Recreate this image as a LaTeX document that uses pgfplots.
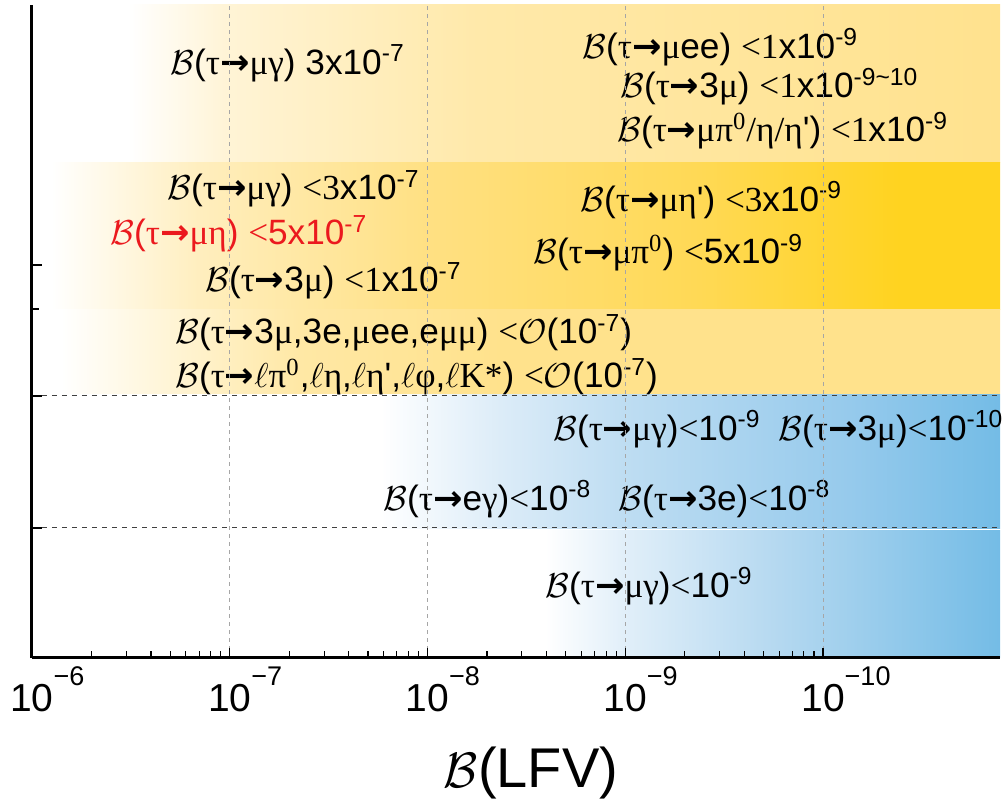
\documentclass[border=0pt]{standalone}
\usepackage{pgfplots}
\pgfplotsset{compat=1.18}
\usepackage{fontspec}
\setmainfont{Liberation Sans}
\newfontfamily\gr{Liberation Serif}
\newfontfamily\arrfont{DejaVu Sans}
\newcommand\g[1]{{\gr #1}}
\newcommand\B{$\mathcal{B}$}
\newcommand\ar{{\arrfont\bfseries →}}
\newcommand\q{\textquotesingle}
\newcommand\e[1]{\textsuperscript{#1}}
\definecolor{yA1}{RGB}{255,244,214}
\definecolor{yA2}{RGB}{255,233,170}
\definecolor{yA3}{RGB}{255,226,142}
\definecolor{yB1}{RGB}{255,238,190}
\definecolor{yB2}{RGB}{255,224,130}
\definecolor{yB3}{RGB}{255,217,85}
\definecolor{yB4}{RGB}{255,211,32}
\definecolor{yC1}{RGB}{255,232,165}
\definecolor{yC2}{RGB}{255,226,140}
\definecolor{bA1}{RGB}{220,236,248}
\definecolor{bA2}{RGB}{190,221,242}
\definecolor{bA3}{RGB}{150,202,236}
\definecolor{bA4}{RGB}{116,188,230}
\definecolor{bB1}{RGB}{225,239,249}
\definecolor{bB2}{RGB}{180,216,240}
\definecolor{bB3}{RGB}{116,188,230}
\definecolor{lblred}{RGB}{235,25,30}
\pgfdeclarehorizontalshading{bandA}{100bp}{color(0bp)=(white); color(30bp)=(white); color(35bp)=(yA1); color(48bp)=(yA2); color(75bp)=(yA3); color(100bp)=(yA3)}
\pgfdeclarehorizontalshading{bandB}{100bp}{color(0bp)=(white); color(26bp)=(white); color(33.7bp)=(yB1); color(45.6bp)=(yB2); color(59.5bp)=(yB3); color(69.8bp)=(yB4); color(100bp)=(yB4)}
\pgfdeclarehorizontalshading{bandC}{100bp}{color(0bp)=(white); color(26.5bp)=(white); color(38.8bp)=(yC1); color(49.2bp)=(yC2); color(100bp)=(yC2)}
\pgfdeclarehorizontalshading{bandD}{100bp}{color(0bp)=(white); color(43bp)=(white); color(49.2bp)=(bA1); color(55.6bp)=(bA2); color(67.2bp)=(bA3); color(75bp)=(bA4); color(100bp)=(bA4)}
\pgfdeclarehorizontalshading{bandE}{100bp}{color(0bp)=(white); color(51.5bp)=(white); color(55.6bp)=(bB1); color(63.6bp)=(bB2); color(75bp)=(bB3); color(100bp)=(bB3)}
\begin{document}
\begin{tikzpicture}
\begin{axis}[
  scale only axis, width=484pt, height=326.5pt,
  xmode=log, xmin=1, xmax=78524, ymin=0, ymax=653,
  clip=false, axis on top,
  axis x line*=bottom, axis y line*=left,
  axis line style={line width=1.5pt, black},
  xtick={1,10,100,1000,10000},
  xticklabels={
    {10\rlap{\raisebox{13pt}{\fontsize{13.5}{13.5}\selectfont −6}}},
    {10\rlap{\raisebox{13pt}{\fontsize{13.5}{13.5}\selectfont −7}}},
    {10\rlap{\raisebox{13pt}{\fontsize{13.5}{13.5}\selectfont −8}}},
    {10\rlap{\raisebox{13pt}{\fontsize{13.5}{13.5}\selectfont −9}}},
    {10\rlap{\raisebox{13pt}{\fontsize{13.5}{13.5}\selectfont −10}}}},
  xticklabel style={font=\fontsize{19.5}{19.5}\selectfont, anchor=base, yshift=-27pt},
  tick align=inside, xtick pos=bottom, ytick pos=left,
  major tick length=5pt, minor tick length=3.5pt,
  tick style={line width=0.6pt, black},
  xmajorgrids, grid style={dash pattern=on 2pt off 2pt, gray!70, line width=0.5pt},
  ytick={393}, yticklabels={},
  minor ytick={349},
  extra y ticks={130,262}, extra y tick labels={},
  extra y tick style={grid=major, major grid style={dash pattern=on 2.5pt off 2.5pt, black!75, line width=0.5pt}},
]
% bands
\addplot[draw=none, mark=none, shade, shading=bandA] coordinates {(1,495) (78524,495) (78524,653) (1,653)};
\addplot[draw=none, mark=none, shade, shading=bandB] coordinates {(1,348) (78524,348) (78524,495) (1,495)};
\addplot[draw=none, mark=none, shade, shading=bandC] coordinates {(1,264) (78524,264) (78524,348) (1,348)};
\addplot[draw=none, mark=none, shade, shading=bandD] coordinates {(1,129) (78524,129) (78524,263) (1,263)};
\addplot[draw=none, mark=none, shade, shading=bandE] coordinates {(1,0) (78524,0) (78524,127) (1,127)};
% labels
\begin{scope}[every node/.style={anchor=base west, inner sep=0pt, font=\fontsize{17.6}{20}\selectfont}]
\node at (rel axis cs:0.1426,0.8943) {\B(\g{τ}\ar\g{μγ}) 3x10\e{-7}};
\node at (rel axis cs:0.5682,0.9188) {\B(\g{τ}\ar\g{μ}ee) \g{<1}x10\e{-9}};
\node at (rel axis cs:0.6074,0.8576) {\B(\g{τ}\ar 3\g{μ}) \g{<1}x10\e{-9\textasciitilde10}};
\node at (rel axis cs:0.6043,0.7902) {\B(\g{τ}\ar\g{μπ\e{0}/η/η}\q) \g{<1}x10\e{-9}};
\node at (rel axis cs:0.1395,0.7014) {\B(\g{τ}\ar\g{μγ}) \g{<3}x10\e{-7}};
\node[text=lblred] at (rel axis cs:0.0806,0.6325) {\B(\g{τ}\ar\g{μη}) \g{<}5x10\e{-7}};
\node at (rel axis cs:0.1787,0.5605) {\B(\g{τ}\ar 3\g{μ}) \g{<1}x10\e{-7}};
\node at (rel axis cs:0.5661,0.6845) {\B(\g{τ}\ar\g{μη}\q) \g{<3}x10\e{-9}};
\node at (rel axis cs:0.5176,0.6034) {\B(\g{τ}\ar\g{μπ\e{0}}) \g{<}5x10\e{-9}};
\node at (rel axis cs:0.1477,0.4809) {\B(\g{τ}\ar 3\g{μ},3e,\g{μ}ee,e\g{μμ}) \g{<}$\mathcal{O}$(10\e{-7})};
\node at (rel axis cs:0.1477,0.4135) {\B(\g{τ}\ar$\ell$\g{π\e{0}},$\ell$\g{η},$\ell$\g{η}\q,$\ell$\g{φ},$\ell$\g{K*}) \g{<}$\mathcal{O}$(10\e{-7})};
\node at (rel axis cs:0.5382,0.3338) {\B(\g{τ}\ar\g{μγ})\g{<}10\e{-9}};
\node at (rel axis cs:0.7707,0.3338) {\B(\g{τ}\ar 3\g{μ})\g{<}10\e{-10}};
\node at (rel axis cs:0.3626,0.2266) {\B(\g{τ}\ar e\g{γ})\g{<}10\e{-8}};
\node at (rel axis cs:0.6054,0.2266) {\B(\g{τ}\ar 3e)\g{<}10\e{-8}};
\node at (rel axis cs:0.5300,0.0934) {\B(\g{τ}\ar\g{μγ})\g{<}10\e{-9}};
\end{scope}
\node[anchor=base, inner sep=0pt, font=\fontsize{28}{28}\selectfont] at ([yshift=-65pt]rel axis cs:0.5155,0) {$\mathcal{B}$(LFV)};
\path ([xshift=-16pt,yshift=-72.5pt]rel axis cs:0,0) rectangle ([xshift=4pt,yshift=2.5pt]rel axis cs:1,1);
\end{axis}
\end{tikzpicture}
\end{document}
